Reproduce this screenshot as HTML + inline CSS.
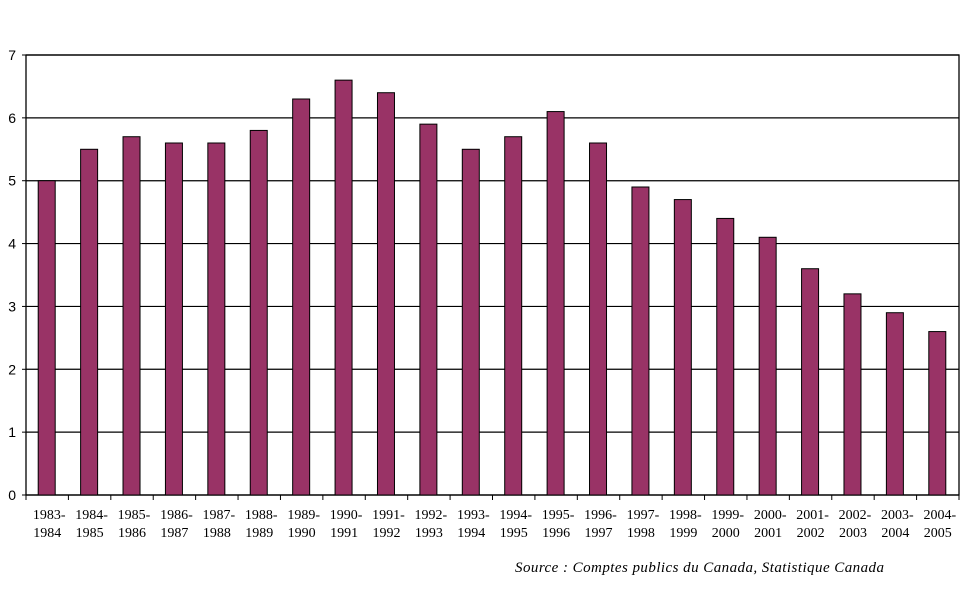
<!DOCTYPE html>
<html><head><meta charset="utf-8"><style>
html,body{margin:0;padding:0;background:#fff;}
svg text{font-family:"Liberation Serif",serif;fill:#000;}
</style></head><body>
<svg id="chart" width="968" height="602" xmlns="http://www.w3.org/2000/svg"></svg>
<script>
const categories=["1983-1984","1984-1985","1985-1986","1986-1987","1987-1988","1988-1989","1989-1990","1990-1991","1991-1992","1992-1993","1993-1994","1994-1995","1995-1996","1996-1997","1997-1998","1998-1999","1999-2000","2000-2001","2001-2002","2002-2003","2003-2004","2004-2005"];
const values=[5.0,5.5,5.7,5.6,5.6,5.8,6.3,6.6,6.4,5.9,5.5,5.7,6.1,5.6,4.9,4.7,4.4,4.1,3.6,3.2,2.9,2.6];
const yTicks=[0,1,2,3,4,5,6,7];
const NS="http://www.w3.org/2000/svg";
const svg=document.getElementById('chart');
const L=26,R=959,T=55,B=495,yMax=7;
const bw=(R-L)/categories.length;
const y=v=>B-(v/yMax)*(B-T);
const x=i=>L+i*bw;
function mk(tag,attrs,parent){const e=document.createElementNS(NS,tag);for(const k in attrs)e.setAttribute(k,attrs[k]);(parent||svg).appendChild(e);return e;}
const plot=mk('rect',{x:L,y:T,width:R-L,height:B-T,fill:'#fff',stroke:'#000','stroke-width':1.3});


yTicks.forEach(t=>{
  const g=mk('line',{x1:L,x2:R,y1:y(t),y2:y(t),stroke:'#000','stroke-width':1.2});
  
  
  mk('line',{x1:L-4,x2:L,y1:y(t),y2:y(t),stroke:'#000'});
  const tx=mk('text',{x:16,y:y(t)+5,'text-anchor':'end','font-size':14,style:'font-family:"Liberation Sans",sans-serif'});
  tx.textContent=t;
  
  
});
categories.forEach((c,i)=>{
  mk('line',{x1:x(i),x2:x(i),y1:B,y2:B+5,stroke:'#000'});
  const bar=mk('rect',{x:x(i)+bw/2-9,y:y(values[i]),width:17,height:B-y(values[i]),fill:'#993366',stroke:'#000','stroke-width':1});
  
  
  const parts=c.split('-');
  const t1=mk('text',{x:x(i)+bw/2+2,y:519,'text-anchor':'middle','font-size':14});
  t1.textContent=parts[0]+'-';
  
  
  const t2=mk('text',{x:x(i)+bw/2,y:537,'text-anchor':'middle','font-size':14});
  t2.textContent=parts[1];
  
  
});
mk('line',{x1:R,x2:R,y1:B,y2:B+5,stroke:'#000'});
const src=mk('text',{x:515,y:572,'font-size':15,'font-style':'italic',textLength:369,lengthAdjust:'spacing'});
src.textContent='Source : Comptes publics du Canada, Statistique Canada';


</script>
</body></html>
